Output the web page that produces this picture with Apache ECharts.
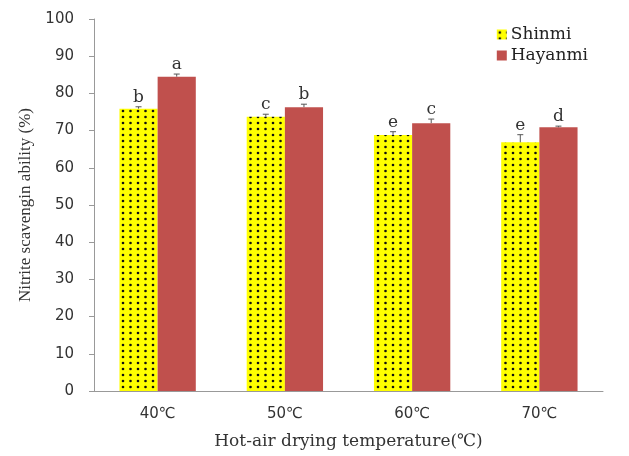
<!DOCTYPE html>
<html><head><meta charset="utf-8">
<script src="https://cdn.jsdelivr.net/npm/echarts@6/dist/echarts.min.js"></script>
<style>html,body{margin:0;padding:0;background:#fff}#c{width:629px;height:456px}</style>
</head><body><div id="c"></div>
<script>
const categories = ['40℃', '50℃', '60℃', '70℃'];
const shinmi = [75.9, 73.7, 68.8, 66.9];
const shinmiErr = [0.5, 0.7, 0.9, 2.0];
const shinmiLetters = ['b', 'c', 'e', 'e'];
const hayanmi = [84.5, 76.3, 72.0, 70.9];
const hayanmiErr = [0.7, 0.8, 1.1, 0.3];
const hayanmiLetters = ['a', 'b', 'c', 'd'];
const yTicks = [0, 10, 20, 30, 40, 50, 60, 70, 80, 90, 100];

const pc = document.createElement('canvas');
pc.width = 15; pc.height = 6;
const g = pc.getContext('2d');
g.fillStyle = '#ffff00'; g.fillRect(0, 0, 15, 6);
g.fillStyle = '#111';
[[3, 3], [10.5, 3]].forEach(p => { g.beginPath(); g.arc(p[0], p[1], 1.3, 0, Math.PI * 2); g.fill(); });
const dotPattern = { image: pc, repeat: 'repeat' };

const CAT_GAP = 0.40;
function errSeries(name, vals, errs, letters, side) {
  return {
    type: 'custom', name: name + '_err', silent: true, z: 5,
    data: vals.map((v, i) => [i, v, errs[i]]),
    renderItem: function (params, api) {
      const i = api.value(0), v = api.value(1), e = api.value(2);
      const band = api.size([1, 0])[0];
      const off = side * band * (1 - CAT_GAP) / 4;
      const base = api.coord([i, v]);
      const top = api.coord([i, v + e]);
      const x = base[0] + off;
      const cap = 3;
      return {
        type: 'group', children: [
          { type: 'line', shape: { x1: x, y1: base[1], x2: x, y2: top[1] }, style: { stroke: '#555', lineWidth: 1 } },
          { type: 'line', shape: { x1: x - cap, y1: top[1], x2: x + cap, y2: top[1] }, style: { stroke: '#555', lineWidth: 1 } },
          { type: 'text', style: { x: x, y: top[1] - 1, text: letters[i], textAlign: 'center', textVerticalAlign: 'bottom', font: '17px "DejaVu Serif"', fill: '#333' } }
        ]
      };
    }
  };
}

const chart = echarts.init(document.getElementById('c'));
chart.setOption({
  animation: false,
  grid: { left: 94, right: 26, top: 19, bottom: 65 },
  legend: {
    orient: 'vertical', right: 36, top: 21, itemWidth: 10, itemHeight: 10, itemGap: 4,
    icon: 'rect',
    textStyle: { fontFamily: 'DejaVu Serif', fontSize: 17, color: '#222', padding: [0, 0, 0, -1] },
    data: ['Shinmi', 'Hayanmi']
  },
  xAxis: {
    type: 'category', data: categories,
    axisLine: { lineStyle: { color: '#999' } },
    axisTick: { show: false },
    axisLabel: { color: '#333', fontSize: 15, margin: 16, fontFamily: 'DejaVu Sans' },
    name: 'Hot-air drying temperature(℃)', nameLocation: 'middle', nameGap: 42,
    nameTextStyle: { fontFamily: 'DejaVu Serif', fontSize: 17, color: '#333' }
  },
  yAxis: {
    type: 'value', min: 0, max: 100, interval: 10,
    splitLine: { show: false },
    axisLine: { show: true, lineStyle: { color: '#999' } },
    axisTick: { show: true, inside: false, length: 5, lineStyle: { color: '#999' } },
    axisLabel: { color: '#333', fontSize: 15, margin: 20, fontFamily: 'DejaVu Sans',
      formatter: v => yTicks.includes(v) ? String(v) : '' },
    name: 'Nitrite scavengin ability (%)', nameLocation: 'middle', nameGap: 60,
    nameTextStyle: { fontFamily: 'Liberation Serif', fontSize: 17, color: '#333' }
  },
  series: [
    { name: 'Shinmi', type: 'bar', data: shinmi, barGap: '0%', barCategoryGap: (CAT_GAP * 100) + '%',
      itemStyle: { color: dotPattern } },
    { name: 'Hayanmi', type: 'bar', data: hayanmi, barGap: '0%', barCategoryGap: (CAT_GAP * 100) + '%',
      itemStyle: { color: '#c0504d' } },
    errSeries('Shinmi', shinmi, shinmiErr, shinmiLetters, -1),
    errSeries('Hayanmi', hayanmi, hayanmiErr, hayanmiLetters, 1)
  ]
});
</script></body></html>
